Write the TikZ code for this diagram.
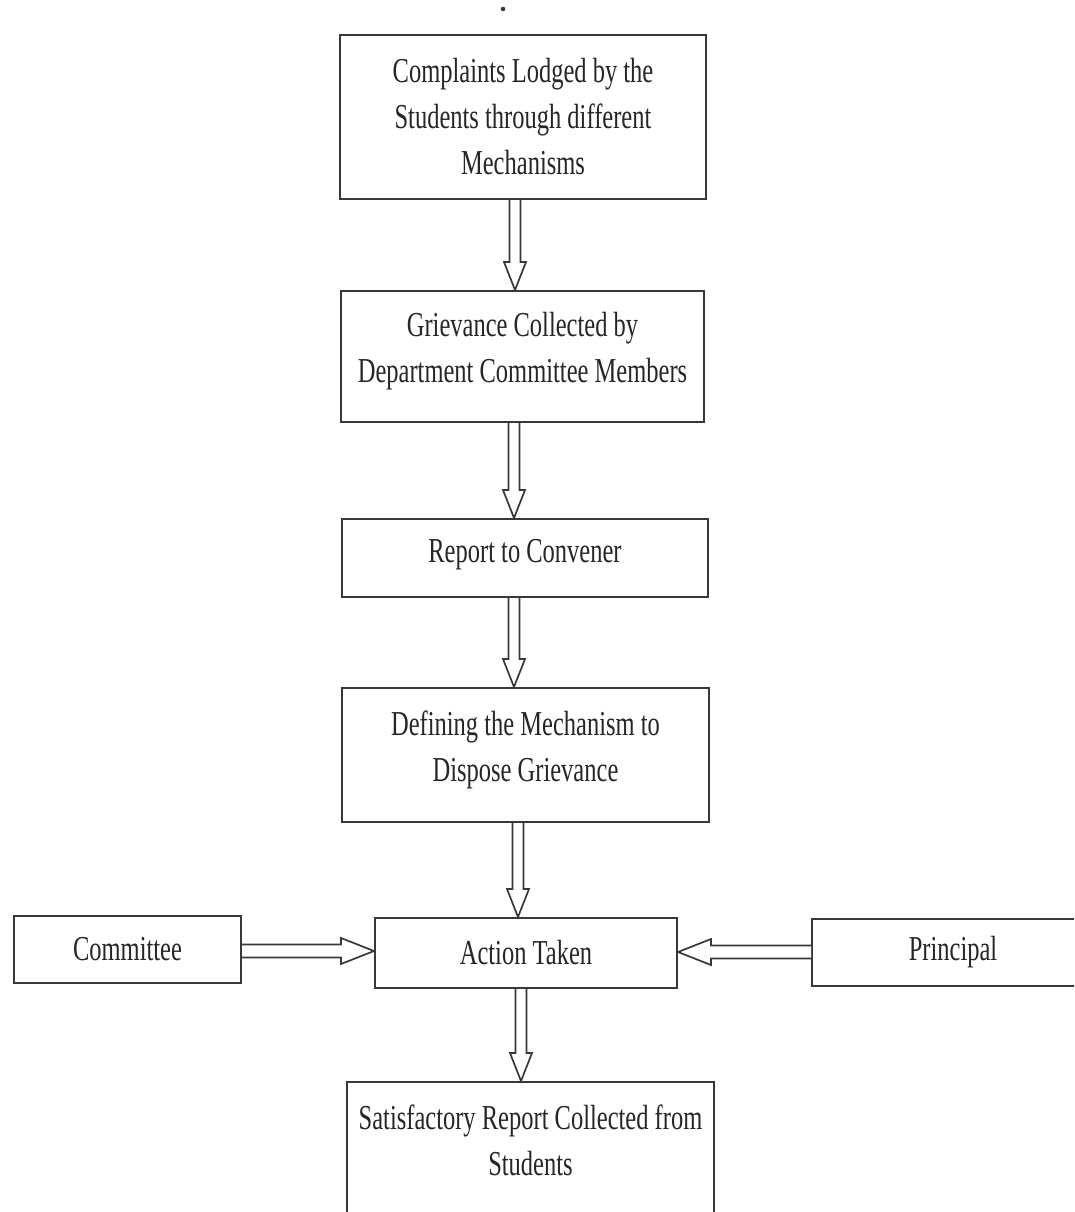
\documentclass[tikz,border=0pt]{standalone}
\usepackage{fontspec}
\setmainfont[FakeStretch=0.70]{Liberation Serif}
\usetikzlibrary{calc}
\definecolor{ink}{HTML}{262626}
\definecolor{edge}{HTML}{383838}
\begin{document}
\begin{tikzpicture}[x=1pt,y=-1pt,
  box/.style={draw=edge, line width=2pt, fill=white, align=center, text=ink,
    font=\fontsize{35}{46}\selectfont, inner sep=4pt},
  hollow/.style n args={3}{draw=edge, line width=1.7pt, fill=white, line join=miter,
    to path={
      ($(\tikztotarget)!#1!(\tikztostart)$) coordinate (hb)
      ($(\tikztostart)!#3!90:(\tikztotarget)$)
      -- ($(hb)!#3!-90:(\tikztostart)$)
      -- ($(hb)!#2!-90:(\tikztostart)$)
      -- (\tikztotarget)
      -- ($(hb)!#2!90:(\tikztostart)$)
      -- ($(hb)!#3!90:(\tikztostart)$)
      -- ($(\tikztostart)!#3!-90:(\tikztotarget)$)
    }},
  vhollow/.style={hollow={28pt}{11pt}{5.5pt}},
  hhollow/.style={hollow={33pt}{13pt}{6.5pt}}]
\useasboundingbox (0,0) rectangle (1074,1212);
\clip (0,0) rectangle (1074,1212);
\fill[white] (0,0) rectangle (1074,1212);

\node[circle, fill=edge, inner sep=1.6pt] (dot) at (503,9) {};

\node[box, minimum width=366pt, minimum height=164pt] (complaints) at (523,117)
  {Complaints Lodged by the\\Students through different\\Mechanisms};
\node[box, minimum width=363pt, minimum height=131pt] (grievance) at (522.5,356.5)
  {Grievance Collected by\\Department Committee Members\\[-28pt]\mbox{}};
\node[box, minimum width=366pt, minimum height=78pt] (report) at (525,558)
  {Report to Convener\\[-32pt]\mbox{}};
\node[box, minimum width=367pt, minimum height=134pt] (defining) at (525.5,755)
  {Defining the Mechanism to\\Dispose Grievance\\[-28pt]\mbox{}};
\node[box, minimum width=302pt, minimum height=70pt] (action) at (526,953)
  {Action Taken};
\node[box, minimum width=227pt, minimum height=67pt] (committee) at (127.5,949.5)
  {Committee};
\node[box, minimum width=282pt, minimum height=67pt] (principal) at (953,952.5)
  {Principal};
\node[box, minimum width=367pt, minimum height=150pt] (satisfactory) at (530.5,1157)
  {Satisfactory Report Collected from\\Students\\[-12pt]\mbox{}};

\draw[vhollow] (515,0 |- complaints.south) to (515,0 |- grievance.north);
\draw[vhollow] (514,0 |- grievance.south) to (514,0 |- report.north);
\draw[vhollow] (514,0 |- report.south) to (514,0 |- defining.north);
\draw[vhollow] (518,0 |- defining.south) to (518,0 |- action.north);
\draw[vhollow] (521,0 |- action.south) to (521,0 |- satisfactory.north);
\draw[hhollow] (committee.east |- 0,951) to (action.west |- 0,951);
\draw[hhollow] (principal.west |- 0,952) to (action.east |- 0,952);
\end{tikzpicture}
\end{document}
